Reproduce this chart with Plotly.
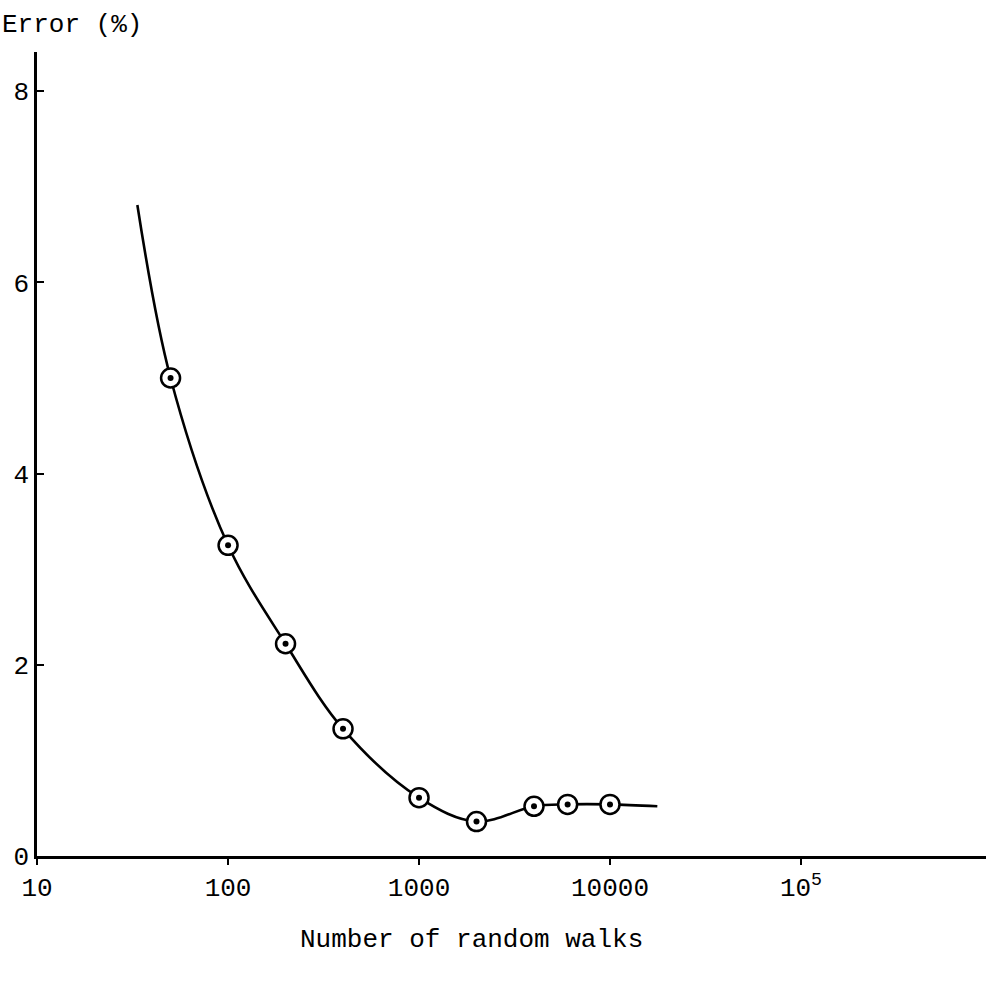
import plotly.graph_objects as go

# Measured error against number of random walks
walks = [50, 100, 200, 400, 1000, 2000, 4000, 6000, 10000]
error_pct = [5.0, 3.25, 2.22, 1.33, 0.61, 0.36, 0.52, 0.54, 0.54]

# Smooth fitted curve drawn through the measurements
curve_walks = [33.5, 50, 100, 200, 400, 1000, 2000, 4000, 6000, 10000, 17700]
curve_error = [6.81, 5.0, 3.25, 2.22, 1.33, 0.61, 0.36, 0.52, 0.54, 0.54, 0.52]

x_tick_vals = [10, 100, 1000, 10000, 100000]
x_tick_text = ["10", "100", "1000", "10000", "10<sup>5</sup>"]
y_tick_vals = [0, 2, 4, 6, 8]
y_tick_text = ["0", "2", "4", "6", "8"]

FONT = "Liberation Mono, Courier New, monospace"

fig = go.Figure()

fig.add_trace(go.Scatter(
    x=curve_walks, y=curve_error, mode="lines",
    line=dict(color="black", width=2.6, shape="spline", smoothing=1.0),
    hoverinfo="skip", showlegend=False,
))

# Open circles with a centre dot
fig.add_trace(go.Scatter(
    x=walks, y=error_pct, mode="markers",
    marker=dict(symbol="circle", size=19, color="white",
                line=dict(color="black", width=2.5)),
    showlegend=False,
))
fig.add_trace(go.Scatter(
    x=walks, y=error_pct, mode="markers",
    marker=dict(symbol="circle", size=6, color="black"),
    hoverinfo="skip", showlegend=False,
))

fig.update_xaxes(
    type="log", range=[0.9995, 5.969],
    tickvals=x_tick_vals, ticktext=x_tick_text,
    ticks="outside", ticklen=6, tickwidth=2, tickcolor="black",
    showline=True, linecolor="black", linewidth=2.5,
    showgrid=False, zeroline=False,
    tickfont=dict(family=FONT, size=26, color="black"),
)
fig.update_yaxes(
    range=[0, 8.41],
    tickvals=y_tick_vals, ticktext=y_tick_text,
    ticks="inside", ticklen=7, tickwidth=2, tickcolor="black",
    showline=True, linecolor="black", linewidth=2.5,
    showgrid=False, zeroline=False,
    tickfont=dict(family=FONT, size=26, color="black"),
)

fig.add_annotation(
    text="Error (%)", xref="paper", yref="paper",
    x=-0.039, y=1.033, xanchor="left", yanchor="middle",
    showarrow=False, font=dict(family=FONT, size=26, color="black"),
)
fig.add_annotation(
    text="Number of random walks", xref="paper", yref="paper",
    x=0.458, y=-0.1045, xanchor="center", yanchor="middle",
    showarrow=False, font=dict(family=FONT, size=26, color="black"),
)

fig.update_layout(
    width=986, height=987,
    margin=dict(l=37, r=0, t=52, b=131),
    paper_bgcolor="white", plot_bgcolor="white",
    font=dict(family=FONT, color="black"),
)

fig.write_html("out.html")
